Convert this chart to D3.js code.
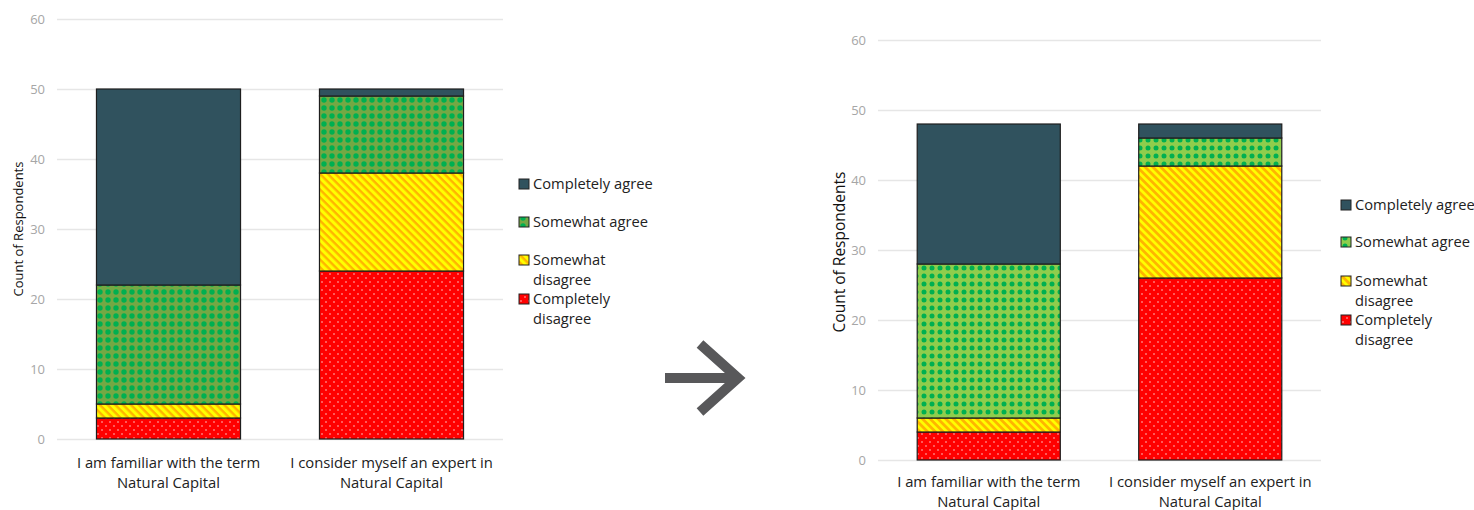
<!DOCTYPE html>
<html>
<head>
<meta charset="utf-8">
<script src="https://cdn.jsdelivr.net/npm/d3@7"></script>
<style>
  body { margin: 0; background: #fff; }
  svg text { font-family: "Open Sans", "DejaVu Sans", sans-serif; }
</style>
</head>
<body>
<svg id="chart" width="1474" height="510"></svg>
<script>
// categories & tick values
const categories = [
  "I am familiar with the term|Natural Capital",
  "I consider myself an expert in|Natural Capital",
];
const seriesKeys = ["disagreeFull", "disagreeSome", "agreeSome", "agreeFull"];
const legendLabels = ["Completely agree", "Somewhat agree", "Somewhat|disagree", "Completely|disagree"];
const yTicks = [0, 10, 20, 30, 40, 50, 60];

// before (left chart)
const beforeCompletelyDisagree = [3, 24];
const beforeSomewhatDisagree = [2, 14];
const beforeSomewhatAgree = [17, 11];
const beforeCompletelyAgree = [28, 1];

// after (right chart)
const afterCompletelyDisagree = [4, 26];
const afterSomewhatDisagree = [2, 16];
const afterSomewhatAgree = [22, 4];
const afterCompletelyAgree = [20, 2];

function buildRows(cd, sd, sa, ca) {
  return categories.map((c, i) => ({
    cat: c,
    disagreeFull: cd[i],
    disagreeSome: sd[i],
    agreeSome: sa[i],
    agreeFull: ca[i],
  }));
}

var svg = d3.select("#chart");
var defs = svg.append("defs");

// PATTERNS
function makePatterns(p, opt) {
  // somewhat agree - dotted green
  var g1 = defs.append("pattern")
    .attr("id", p + "agree")
    .attr("patternUnits", "userSpaceOnUse")
    .attr("width", opt.dotStep).attr("height", opt.dotStep);
  g1.append("rect").attr("width", opt.dotStep).attr("height", opt.dotStep).attr("fill", opt.greenBg);
  g1.append("circle").attr("cx", opt.dotStep / 2).attr("cy", opt.dotStep / 2)
    .attr("r", opt.dotR).attr("fill", "#00b050");

  // somewhat disagree - yellow with orange stripes
  var g2 = defs.append("pattern")
    .attr("id", p + "stripe")
    .attr("patternUnits", "userSpaceOnUse")
    .attr("width", opt.stripeStep).attr("height", opt.stripeStep)
    .attr("patternTransform", "rotate(45)");
  g2.append("rect").attr("width", opt.stripeStep).attr("height", opt.stripeStep).attr("fill", "#ffff00");
  g2.append("rect").attr("width", opt.stripeStep).attr("height", opt.stripeW).attr("fill", "#ffb400");

  // completely disagree - red with small white dots
  var g3 = defs.append("pattern")
    .attr("id", p + "red")
    .attr("patternUnits", "userSpaceOnUse")
    .attr("width", 8).attr("height", 8);
  g3.append("rect").attr("width", 8).attr("height", 8).attr("fill", "#ff0000");
  g3.append("circle").attr("cx", 2).attr("cy", 2).attr("r", 0.8).attr("fill", "#ffc8c8");
  g3.append("circle").attr("cx", 6).attr("cy", 6).attr("r", 0.8).attr("fill", "#ffc8c8");
}

function drawChart(rows, cfg) {
  var fills = {
    disagreeFull: `url(#${cfg.id}red)`,
    disagreeSome: `url(#${cfg.id}stripe)`,
    agreeSome: `url(#${cfg.id}agree)`,
    agreeFull: "#30525e",
  };

  var x = d3.scaleBand()
    .domain(rows.map((d) => d.cat))
    .range([cfg.x0, cfg.x1])
    .paddingInner(0.354)
    .paddingOuter(0.177);

  var y = d3.scaleLinear().domain([0, 60]).range([cfg.y0, cfg.y1]);

  var g = svg.append("g");

  // gridlines + tick labels
  var yAxis = g.append("g")
    .attr("transform", `translate(${cfg.x0},0)`)
    .call(d3.axisLeft(y).tickValues(yTicks).tickSize(-(cfg.x1 - cfg.x0)).tickPadding(12));
  yAxis.select(".domain").remove();
  yAxis.selectAll(".tick line").attr("stroke", "#e6e6e6").attr("stroke-width", 1.3);
  yAxis.selectAll(".tick text")
    .attr("fill", "#a6a6a6")
    .style("font-size", cfg.tickFont + "px");

  // y title
  g.append("text")
    .attr("transform", `translate(${cfg.titleX},${cfg.titleY}) rotate(-90)`)
    .attr("text-anchor", "middle")
    .style("font-size", cfg.titleFont + "px")
    .attr("fill", "#111")
    .text("Count of Respondents");

  // bars
  var stacked = d3.stack().keys(seriesKeys)(rows);
  g.selectAll(".layer")
    .data(stacked)
    .enter()
    .append("g")
    .attr("class", "layer")
    .attr("fill", (d) => fills[d.key])
    .selectAll("rect")
    .data((d) => d)
    .enter()
    .append("rect")
    .attr("x", (d) => x(d.data.cat))
    .attr("width", x.bandwidth())
    .attr("y", (d) => y(d[1]))
    .attr("height", (d) => y(d[0]) - y(d[1]))
    .attr("stroke", "#1e1e1e")
    .attr("stroke-width", 1.2);

  // category labels
  var cl = g.selectAll(".catLabel")
    .data(rows)
    .enter()
    .append("text")
    .attr("class", "catLabel")
    .attr("text-anchor", "middle")
    .attr("fill", "#222")
    .style("font-size", "14.8px")
    .attr("x", (d) => x(d.cat) + x.bandwidth() / 2)
    .attr("y", cfg.catY);
  cl.selectAll("tspan")
    .data((d) => d.cat.split("|"))
    .enter()
    .append("tspan")
    .attr("x", function () { return d3.select(this.parentNode).attr("x"); })
    .attr("dy", (d, i) => (i === 0 ? 0 : 20))
    .text((d) => d);

  // legend
  var legendKeys = seriesKeys.slice().reverse();
  var lg = g.selectAll(".legend")
    .data(legendKeys)
    .enter()
    .append("g")
    .attr("class", "legend")
    .attr("transform", (d, i) => `translate(${cfg.legX},${cfg.legY[i]})`);
  lg.append("rect")
    .attr("x", 0).attr("y", -5)
    .attr("width", 10).attr("height", 10)
    .attr("fill", (d) => fills[d])
    .attr("stroke", "#222").attr("stroke-width", 1);
  lg.append("text")
    .attr("x", 14)
    .attr("y", 5)
    .style("font-size", "14.7px")
    .attr("fill", "#222")
    .selectAll("tspan")
    .data((d, i) => legendLabels[i].split("|"))
    .enter()
    .append("tspan")
    .attr("x", 14)
    .attr("dy", (d, i) => (i === 0 ? 0 : 20))
    .text((d) => d);
}

makePatterns("L", { dotStep: 8, dotR: 2.7, greenBg: "#74a844", stripeStep: 5.5, stripeW: 2.4 });
makePatterns("R", { dotStep: 8, dotR: 2.5, greenBg: "#8fcd4c", stripeStep: 5.5, stripeW: 2.8 });

drawChart(buildRows(beforeCompletelyDisagree, beforeSomewhatDisagree, beforeSomewhatAgree, beforeCompletelyAgree), {
  id: "L", x0: 57, x1: 503, y0: 439, y1: 19,
  tickFont: 13, titleFont: 13, titleX: 23, titleY: 229,
  catY: 468, legX: 519, legY: [184, 222, 260, 299],
});

drawChart(buildRows(afterCompletelyDisagree, afterSomewhatDisagree, afterSomewhatAgree, afterCompletelyAgree), {
  id: "R", x0: 878, x1: 1321, y0: 460, y1: 40,
  tickFont: 13, titleFont: 15.5, titleX: 845, titleY: 252,
  catY: 487, legX: 1341, legY: [205, 242, 281, 320],
});

// arrow between the charts
svg.append("path")
  .attr("d", "M665,378 H736 M700,344 L738,378 L700,412")
  .attr("fill", "none")
  .attr("stroke", "#58585a")
  .attr("stroke-width", 10)
  .attr("stroke-linejoin", "miter");
</script>
</body>
</html>
